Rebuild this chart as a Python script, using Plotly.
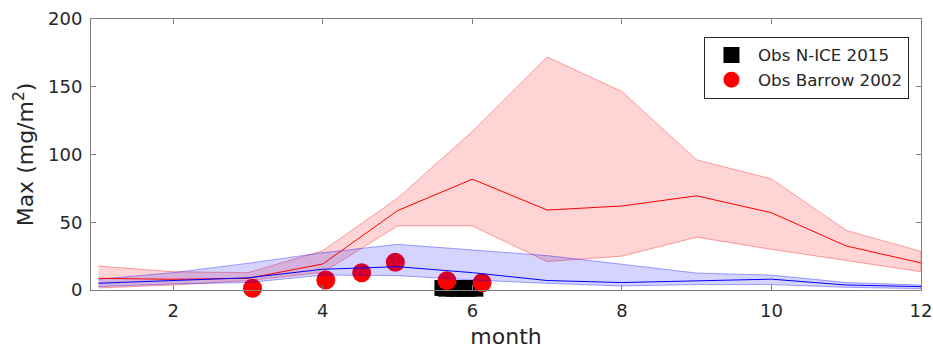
import plotly.graph_objects as go

months = [1, 2, 3, 4, 5, 6, 7, 8, 9, 10, 11, 12]

red_mean = [8.6, 7.9, 8.6, 19.2, 58.6, 81.8, 59, 62, 69.5, 57, 32.5, 20]
red_upper = [17.7, 13.5, 12.8, 29, 67.8, 117, 172, 146.5, 96, 82, 44, 28.5]
red_lower = [1.5, 3.7, 7, 13, 47.3, 47.3, 21, 25, 39, 30, 21.5, 13.5]

blue_mean = [5, 7, 9, 15.3, 17.2, 12.8, 7, 5.5, 7, 8, 3.7, 2.5]
blue_upper = [8, 12.8, 19.7, 27.5, 33.7, 29.5, 25.4, 19, 12.5, 11, 5.5, 3.7]
blue_lower = [2.5, 4.5, 5.5, 11, 10.6, 7.4, 4.9, 3, 4, 4, 2, 1]

nice_x = [5.6, 5.65, 5.7, 5.75, 5.8, 5.85, 5.9, 5.95, 6.0, 6.04]
nice_y = [1.5, 1, 1.5, 1, 1, 1.5, 1, 1, 1.5, 1]

barrow_x = [3.06, 4.04, 4.52, 4.97, 5.66, 6.13]
barrow_y = [1.3, 7.4, 12.8, 20.5, 6.9, 5.4]

fig = go.Figure()

fig.add_trace(go.Scatter(
    x=nice_x, y=nice_y, mode="markers", name="Obs N-ICE 2015",
    marker=dict(symbol="square", size=16, color="black"),
    cliponaxis=False, legendrank=1))
fig.add_trace(go.Scatter(
    x=barrow_x, y=barrow_y, mode="markers", name="Obs Barrow 2002",
    marker=dict(symbol="circle", size=19, color="red"),
    cliponaxis=False, legendrank=2))

fig.add_trace(go.Scatter(
    x=months + months[::-1], y=red_upper + red_lower[::-1],
    fill="toself", fillcolor="rgba(255,0,0,0.17)",
    line=dict(color="rgba(255,0,0,0.35)", width=1),
    mode="lines", showlegend=False, hoverinfo="skip"))
fig.add_trace(go.Scatter(
    x=months + months[::-1], y=blue_upper + blue_lower[::-1],
    fill="toself", fillcolor="rgba(0,0,255,0.17)",
    line=dict(color="rgba(0,0,255,0.35)", width=1),
    mode="lines", showlegend=False, hoverinfo="skip"))
fig.add_trace(go.Scatter(
    x=months, y=red_mean, mode="lines",
    line=dict(color="red", width=1), showlegend=False))
fig.add_trace(go.Scatter(
    x=months, y=blue_mean, mode="lines",
    line=dict(color="blue", width=1), showlegend=False))

axis_common = dict(
    showline=True, linecolor="#808080", linewidth=1, mirror="ticks",
    ticks="inside", ticklen=5, tickcolor="#808080", showgrid=False,
    zeroline=False, automargin=False, ticklabelstandoff=4,
    tickfont=dict(size=18, color="#262626"))

fig.update_xaxes(range=[0.9, 12], tickvals=[2, 4, 6, 8, 10, 12],
                 title=dict(text="month", font=dict(size=22, color="#262626"), standoff=10),
                 **axis_common)
fig.update_yaxes(range=[0, 200], tickvals=[0, 50, 100, 150, 200],
                 title=dict(text="Max (mg/m<sup>2</sup>)", font=dict(size=22, color="#262626"), standoff=8),
                 **axis_common)

fig.update_layout(
    width=933, height=349,
    margin=dict(l=91, r=12, t=19, b=59),
    plot_bgcolor="white", paper_bgcolor="white",
    font=dict(family="DejaVu Sans", color="#262626"),
    legend=dict(x=0.9855, xanchor="right", y=0.935, yanchor="top",
                bgcolor="white", bordercolor="#262626", borderwidth=1,
                font=dict(size=16.7, color="#262626"),
                tracegroupgap=0, itemsizing="trace", itemwidth=43),
)

fig.write_html("out.html", config={"displayModeBar": False},
               post_script="document.body.style.margin='0px';")
